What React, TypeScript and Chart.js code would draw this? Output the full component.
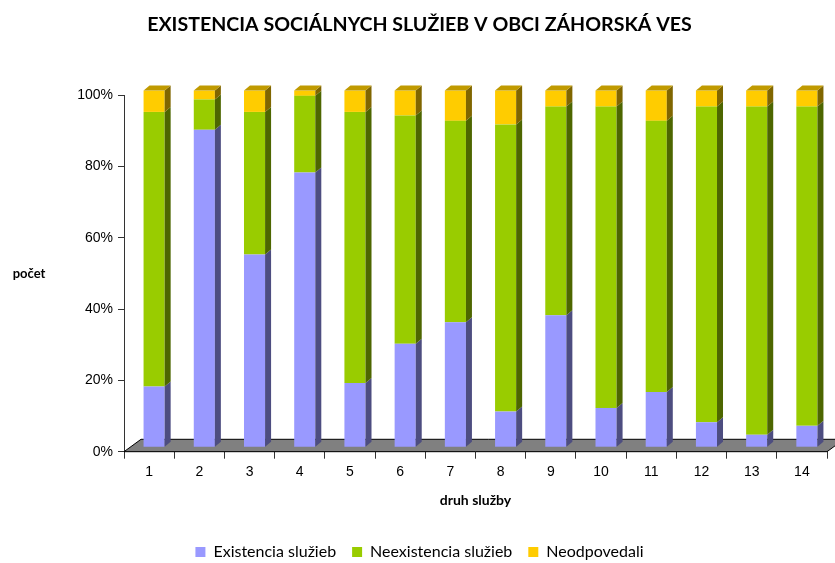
import React, { useEffect, useRef } from "react";
import { Chart, registerables } from "chart.js";

Chart.register(...registerables);

const TITLE = "EXISTENCIA SOCIÁLNYCH SLUŽIEB V OBCI ZÁHORSKÁ VES";
const X_TITLE = "druh služby";
const Y_TITLE = "počet";

const categories = ["1", "2", "3", "4", "5", "6", "7", "8", "9", "10", "11", "12", "13", "14"];

const existencia = [17, 89, 54, 77, 18, 29, 35, 10, 37, 11, 15.5, 7, 3.5, 6];
const neexistencia = [77, 8.5, 40, 21.5, 76, 64, 56.5, 80.5, 58.5, 84.5, 76, 88.5, 92, 89.5];
const neodpovedali = [6, 2.5, 6, 1.5, 6, 7, 8.5, 9.5, 4.5, 4.5, 8.5, 4.5, 4.5, 4.5];

const seriesNames = ["Existencia služieb", "Neexistencia služieb", "Neodpovedali"];
const frontColors = ["#9999FF", "#99CC00", "#FFCC00"];
const sideColors = ["#4D4D80", "#4D6600", "#806600"];
const topColor = "#C09A00";

const yTicks = [0, 20, 40, 60, 80, 100];

// 3D geometry
const BAR_DX = 5;
const BAR_DY = -4.5;
const DEPTH_DX = 6;
const DEPTH_DY = -5;
const FLOOR_DX = 17;
const FLOOR_DY = -12.4;

const depthPlugin = {
  id: "depth3d",
  beforeDatasetsDraw(chart: any) {
    const { ctx, chartArea, scales } = chart;
    const x0 = chartArea.left;
    const x1 = chartArea.right;
    const yb = scales.y.getPixelForValue(0);
    ctx.save();
    ctx.beginPath();
    ctx.moveTo(x0, yb);
    ctx.lineTo(x0 + FLOOR_DX, yb + FLOOR_DY);
    ctx.lineTo(x1 + FLOOR_DX, yb + FLOOR_DY);
    ctx.lineTo(x1, yb);
    ctx.closePath();
    ctx.fillStyle = "#808080";
    ctx.fill();
    ctx.strokeStyle = "#000";
    ctx.lineWidth = 1;
    ctx.stroke();
    ctx.restore();
    ctx.save();
    ctx.translate(BAR_DX, BAR_DY);
  },
  afterDatasetsDraw(chart: any) {
    const { ctx } = chart;
    const n = chart.data.datasets.length;
    chart.data.datasets.forEach((_ds: any, di: number) => {
      const meta = chart.getDatasetMeta(di);
      meta.data.forEach((bar: any) => {
        const { x, y, base, width } = bar.getProps(["x", "y", "base", "width"], true);
        const l = x - width / 2;
        const r = x + width / 2;
        const top = Math.min(y, base);
        const bot = Math.max(y, base);
        ctx.beginPath();
        ctx.moveTo(r, bot);
        ctx.lineTo(r + DEPTH_DX, bot + DEPTH_DY);
        ctx.lineTo(r + DEPTH_DX, top + DEPTH_DY);
        ctx.lineTo(r, top);
        ctx.closePath();
        ctx.fillStyle = sideColors[di];
        ctx.fill();
        if (di === n - 1) {
          ctx.beginPath();
          ctx.moveTo(l, top);
          ctx.lineTo(l + DEPTH_DX, top + DEPTH_DY);
          ctx.lineTo(r + DEPTH_DX, top + DEPTH_DY);
          ctx.lineTo(r, top);
          ctx.closePath();
          ctx.fillStyle = topColor;
          ctx.fill();
        }
      });
    });
    ctx.restore();
  },
  afterDraw(chart: any) {
    const { ctx, chartArea } = chart;
    ctx.save();
    ctx.font = "bold 13px Lato";
    ctx.fillStyle = "#000";
    ctx.textAlign = "center";
    ctx.textBaseline = "middle";
    ctx.fillText(Y_TITLE, chartArea.left - 95, (chartArea.top + chartArea.bottom) / 2);
    ctx.restore();
  },
};

export default function App() {
  const ref = useRef<HTMLCanvasElement | null>(null);

  useEffect(() => {
    if (!ref.current) return;
    const datasets = [existencia, neexistencia, neodpovedali].map((data, i) => ({
      label: seriesNames[i],
      data,
      backgroundColor: frontColors[i],
      borderWidth: 0,
      barPercentage: 0.42,
      categoryPercentage: 1,
      clip: false as any,
    }));
    const chart = new Chart(ref.current, {
      type: "bar",
      data: { labels: categories, datasets },
      plugins: [depthPlugin],
      options: {
        animation: false,
        responsive: false,
        maintainAspectRatio: false,
        layout: { padding: { left: 6, right: 2, top: 0, bottom: -7 } },
        plugins: {
          title: {
            display: true,
            text: TITLE,
            color: "#000",
            font: { family: "Lato", size: 19.6, weight: "bold" },
            padding: { top: 12.7, bottom: 58.8 },
          },
          legend: {
            display: true,
            position: "bottom",
            labels: {
              font: { family: "Lato", size: 16 },
              color: "#000",
              boxWidth: 10,
              boxHeight: 10,
              padding: 16,
            },
          },
          tooltip: { enabled: false },
        },
        scales: {
          x: {
            stacked: true,
            grid: { display: true, drawOnChartArea: false, drawTicks: true, tickLength: 7, color: "#333", offset: true },
            border: { display: true, color: "#333" },
            ticks: { font: { family: "Liberation Sans", size: 14 }, color: "#000", padding: 5, maxRotation: 0 },
            title: {
              display: true,
              text: X_TITLE,
              color: "#000",
              font: { family: "Lato", size: 14, weight: "bold" },
              padding: { top: 0, bottom: 19.6 },
            },
            afterFit: (scale: any) => {
              scale.height = 76.3;
            },
          },
          y: {
            stacked: true,
            min: 0,
            max: 100,
            grid: { display: true, drawOnChartArea: false, drawTicks: true, tickLength: 6, color: "#333" },
            border: { display: true, color: "#333" },
            afterBuildTicks: (scale: any) => {
              scale.ticks = yTicks.map((v) => ({ value: v }));
            },
            ticks: {
              font: { family: "Liberation Sans", size: 14 },
              color: "#000",
              padding: 5,
              callback: (v: any) => v + "%",
            },
            afterFit: (scale: any) => {
              scale.width = 118;
            },
          },
          yRightSpacer: {
            type: "linear",
            position: "right",
            display: true,
            grid: { display: false, drawTicks: false },
            border: { display: false },
            ticks: { display: false },
            afterFit: (scale: any) => {
              scale.width = 6;
            },
          },
        },
      },
    });
    return () => chart.destroy();
  }, []);

  return (
    <div style={{ position: "absolute", left: 0, top: 0, width: 835, height: 563, background: "#fff" }}>
      <canvas ref={ref} width={835} height={563} style={{ display: "block" }} />
    </div>
  );
}
